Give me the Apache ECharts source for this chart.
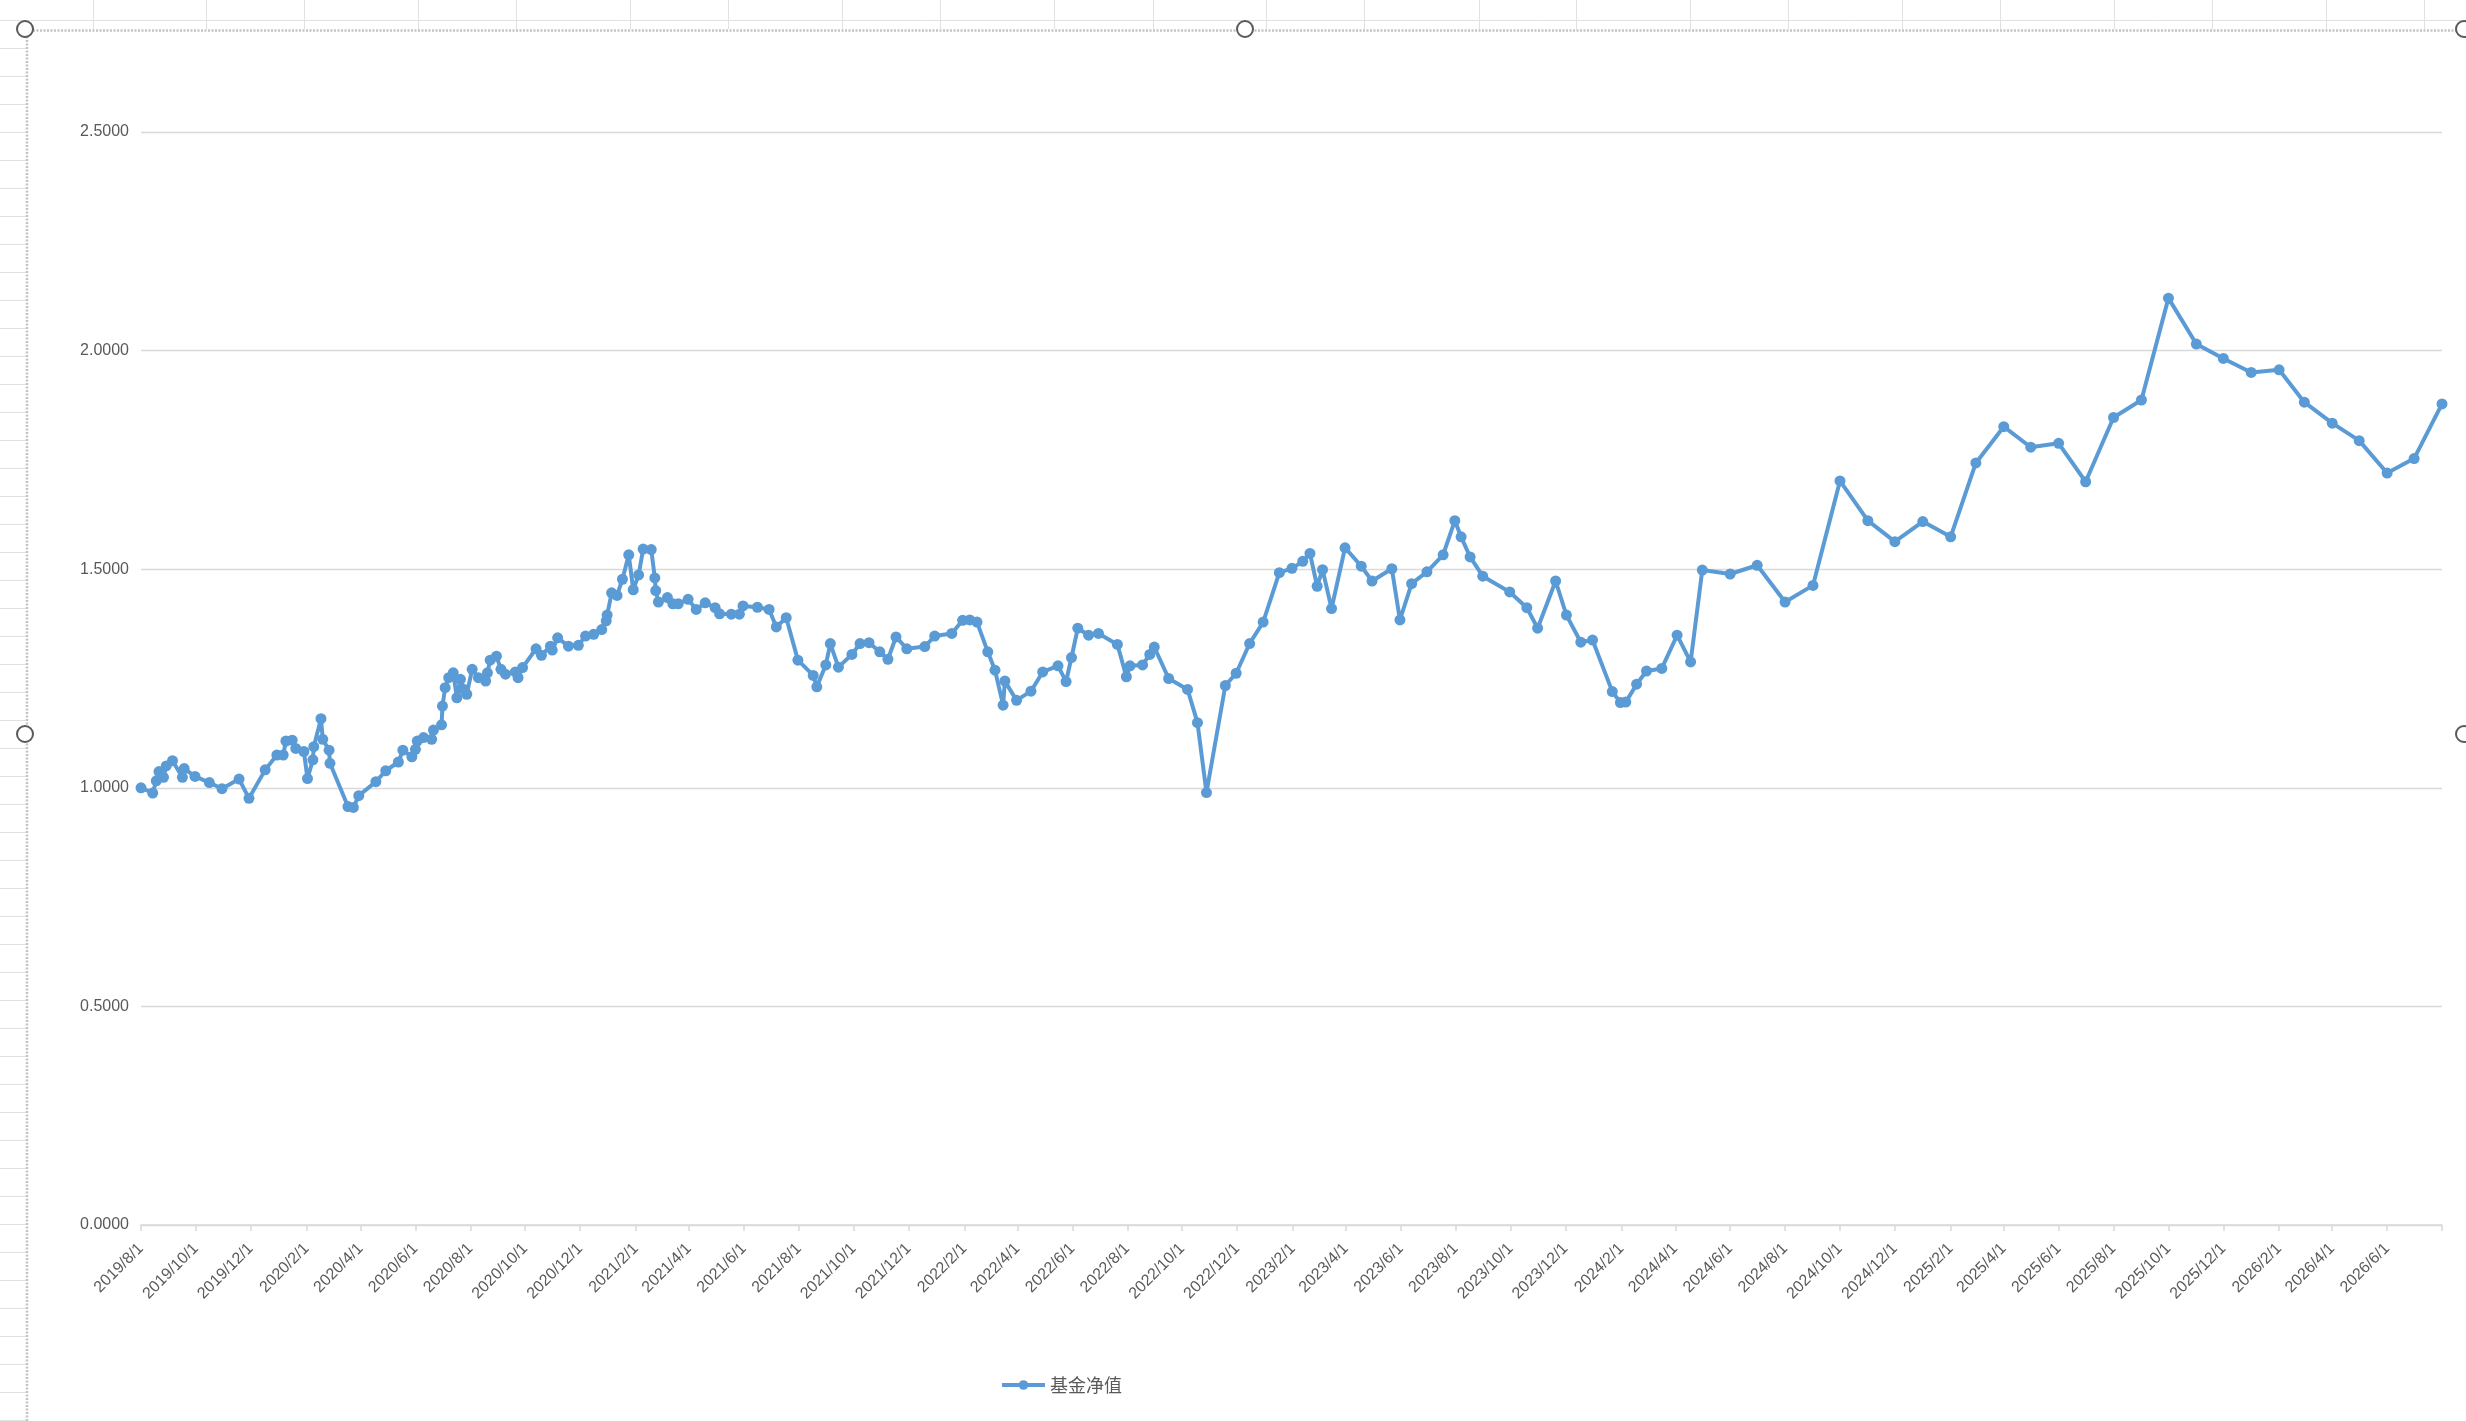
<!DOCTYPE html>
<html>
<head>
<meta charset="utf-8">
<script src="https://cdn.jsdelivr.net/npm/echarts@6/dist/echarts.min.js"></script>
<style>
html,body{margin:0;padding:0;background:#fff;}
#c{width:2466px;height:1421px;}
</style>
</head>
<body>
<div id="c"></div>
<script>
const seriesName = '基金净值';

const dates = [
'2019/8/1','2019/8/14','2019/8/18','2019/8/21','2019/8/26','2019/8/29','2019/9/5','2019/9/16','2019/9/18','2019/9/30',
'2019/10/16','2019/10/30','2019/11/18','2019/11/29','2019/12/17','2019/12/30','2020/1/6','2020/1/9','2020/1/16','2020/1/20',
'2020/1/29','2020/2/2','2020/2/8','2020/2/9','2020/2/17','2020/2/19','2020/2/26','2020/2/27','2020/3/18','2020/3/24',
'2020/3/30','2020/4/18','2020/4/29','2020/5/13','2020/5/18','2020/5/28','2020/6/1','2020/6/3','2020/6/10','2020/6/19',
'2020/6/21','2020/6/30','2020/7/1','2020/7/4','2020/7/8','2020/7/13','2020/7/17','2020/7/21','2020/7/25','2020/7/28',
'2020/8/3','2020/8/10','2020/8/18','2020/8/20','2020/8/23','2020/8/30','2020/9/4','2020/9/9','2020/9/20','2020/9/23',
'2020/9/28','2020/10/13','2020/10/19','2020/10/29','2020/10/31','2020/11/6','2020/11/18','2020/11/29','2020/12/7','2020/12/16',
'2020/12/25','2020/12/30','2020/12/31','2021/1/5','2021/1/11','2021/1/17','2021/1/24','2021/1/29','2021/2/4','2021/2/9',
'2021/2/18','2021/2/22','2021/2/23','2021/2/26','2021/3/8','2021/3/14','2021/3/20','2021/3/31','2021/4/9','2021/4/19',
'2021/4/30','2021/5/5','2021/5/18','2021/5/27','2021/5/31','2021/6/16','2021/6/29','2021/7/7','2021/7/18','2021/7/31',
'2021/8/17','2021/8/21','2021/8/31','2021/9/5','2021/9/14','2021/9/29','2021/10/8','2021/10/18','2021/10/30','2021/11/8',
'2021/11/17','2021/11/29','2021/12/19','2021/12/30','2022/1/18','2022/1/30','2022/2/7','2022/2/15','2022/2/27','2022/3/7',
'2022/3/16','2022/3/18','2022/3/31','2022/4/16','2022/4/29','2022/5/16','2022/5/25','2022/5/31','2022/6/7','2022/6/19',
'2022/6/30','2022/7/21','2022/7/31','2022/8/4','2022/8/18','2022/8/26','2022/8/31','2022/9/16','2022/10/7','2022/10/18',
'2022/10/28','2022/11/18','2022/11/30','2022/12/15','2022/12/30','2023/1/17','2023/1/31','2023/2/12','2023/2/20','2023/2/28',
'2023/3/6','2023/3/16','2023/3/31','2023/4/18','2023/4/30','2023/5/22','2023/5/31','2023/6/13','2023/6/30','2023/7/18',
'2023/7/31','2023/8/7','2023/8/17','2023/8/31','2023/9/30','2023/10/19','2023/10/31','2023/11/20','2023/12/2','2023/12/18',
'2023/12/31','2024/1/22','2024/1/31','2024/2/6','2024/2/18','2024/2/29','2024/3/17','2024/4/3','2024/4/18','2024/5/1',
'2024/6/1','2024/7/1','2024/8/1','2024/9/1','2024/10/1','2024/11/1','2024/12/1','2025/1/1','2025/2/1','2025/3/1',
'2025/4/1','2025/5/1','2025/6/1','2025/7/1','2025/8/1','2025/9/1','2025/10/1','2025/11/1','2025/12/1','2026/1/1',
'2026/2/1','2026/3/1','2026/4/1','2026/5/1','2026/6/1','2026/7/1','2026/8/1'
];

const navValues = [
1.000,0.988,1.016,1.037,1.024,1.050,1.062,1.024,1.044,1.026,
1.012,0.998,1.020,0.976,1.041,1.075,1.075,1.107,1.109,1.090,
1.083,1.021,1.064,1.094,1.158,1.111,1.086,1.056,0.957,0.955,
0.982,1.014,1.039,1.059,1.086,1.071,1.088,1.107,1.115,1.111,
1.132,1.144,1.187,1.229,1.252,1.263,1.206,1.248,1.225,1.214,
1.271,1.252,1.244,1.263,1.292,1.301,1.271,1.260,1.265,1.252,
1.275,1.318,1.303,1.324,1.315,1.343,1.324,1.326,1.347,1.351,
1.362,1.382,1.395,1.446,1.440,1.477,1.533,1.453,1.487,1.546,
1.545,1.480,1.451,1.425,1.435,1.421,1.421,1.431,1.408,1.423,
1.412,1.398,1.397,1.397,1.416,1.413,1.408,1.368,1.389,1.292,
1.257,1.231,1.281,1.330,1.276,1.305,1.330,1.332,1.311,1.294,
1.345,1.318,1.323,1.347,1.353,1.383,1.384,1.379,1.311,1.269,
1.189,1.244,1.200,1.221,1.265,1.279,1.243,1.298,1.365,1.349,
1.353,1.328,1.254,1.279,1.281,1.305,1.322,1.250,1.225,1.149,
0.989,1.234,1.262,1.330,1.379,1.492,1.502,1.518,1.536,1.461,
1.499,1.410,1.549,1.507,1.473,1.501,1.384,1.467,1.494,1.533,
1.611,1.574,1.528,1.484,1.448,1.412,1.365,1.473,1.395,1.333,
1.338,1.220,1.195,1.196,1.237,1.267,1.273,1.349,1.288,1.498,
1.489,1.509,1.425,1.463,1.702,1.611,1.563,1.609,1.574,1.743,
1.826,1.779,1.788,1.700,1.847,1.887,2.120,2.015,1.982,1.950,
1.956,1.882,1.834,1.794,1.720,1.753,1.878
];

const tickLabels = [
'2019/8/1','2019/10/1','2019/12/1','2020/2/1','2020/4/1','2020/6/1','2020/8/1','2020/10/1','2020/12/1',
'2021/2/1','2021/4/1','2021/6/1','2021/8/1','2021/10/1','2021/12/1',
'2022/2/1','2022/4/1','2022/6/1','2022/8/1','2022/10/1','2022/12/1',
'2023/2/1','2023/4/1','2023/6/1','2023/8/1','2023/10/1','2023/12/1',
'2024/2/1','2024/4/1','2024/6/1','2024/8/1','2024/10/1','2024/12/1',
'2025/2/1','2025/4/1','2025/6/1','2025/8/1','2025/10/1','2025/12/1',
'2026/2/1','2026/4/1','2026/6/1'
];
const axisStart = '2019/8/1';
const axisEnd = '2026/8/1';

const yMin = 0, yMax = 2.5, yStep = 0.5;

function parseDate(s) {
  const p = s.split('/').map(Number);
  return new Date(p[0], p[1] - 1, p[2]).getTime();
}
function fmtDate(v) {
  const d = new Date(v);
  return d.getFullYear() + '/' + (d.getMonth() + 1) + '/' + d.getDate();
}

const seriesData = dates.map((d, i) => [parseDate(d), navValues[i]]);
const labelValues = tickLabels.map(parseDate);
const tickValues = labelValues.concat([parseDate(axisEnd)]);

// Excel-sheet decoration around the chart object
const bg = [];
const cellLine = { stroke: '#e1e1e1', lineWidth: 1 };
bg.push({ type: 'line', z: -10, shape: { x1: 0, y1: 20.5, x2: 2466, y2: 20.5 }, style: cellLine });
const colXs = [93,206,304,418,516,630,728,842,940,1054,1153,1266,1364,1479,1576,1690,1788,1902,2000,2114,2212,2326,2424];
colXs.forEach(x => bg.push({ type: 'line', z: -10, shape: { x1: x + 0.5, y1: 0, x2: x + 0.5, y2: 29 }, style: cellLine }));
for (let y = 48; y < 1421; y += 28) {
  bg.push({ type: 'line', z: -10, shape: { x1: 0, y1: y + 0.5, x2: 26, y2: y + 0.5 }, style: cellLine });
}
bg.push({ type: 'rect', z: -9, shape: { x: 27, y: 30, width: 2439, height: 1391 }, style: { fill: '#ffffff' } });
bg.push({ type: 'polyline', z: -8, shape: { points: [[27, 1421], [27, 30.5], [2466, 30.5]] },
  style: { stroke: '#c3c3c3', lineWidth: 2.5, lineDash: [2, 1.5], fill: null } });
[[25, 29], [1245, 29], [2464, 29], [25, 734], [2464, 734]].forEach(([x, y]) =>
  bg.push({ type: 'circle', z: 100, shape: { cx: x, cy: y, r: 8 }, style: { fill: '#ffffff', stroke: '#5a5a5a', lineWidth: 2 } }));

const chart = echarts.init(document.getElementById('c'), null, { renderer: 'canvas' });
chart.setOption({
  animation: false,
  backgroundColor: '#ffffff',
  graphic: { elements: bg },
  grid: { left: 141, right: 24, top: 132, bottom: 196, containLabel: false, outerBoundsMode: 'none' },
  legend: {
    data: [seriesName],
    left: 995,
    top: 1371,
    itemWidth: 43,
    itemHeight: 12,
    itemGap: 5,
    lineStyle: { width: 4 },
    textStyle: { color: '#595959', fontSize: 18, fontFamily: '"Noto Sans CJK SC", sans-serif' }
  },
  xAxis: {
    type: 'value',
    min: parseDate(axisStart),
    max: parseDate(axisEnd),
    scale: true,
    axisLine: { show: true, onZero: false, lineStyle: { color: '#d9d9d9', width: 1.5 } },
    axisTick: { show: true, length: 6, customValues: tickValues, lineStyle: { color: '#d9d9d9', width: 1.5 } },
    splitLine: { show: false },
    axisLabel: {
      customValues: labelValues,
      formatter: fmtDate,
      rotate: 45,
      margin: 21,
      hideOverlap: false,
      showMinLabel: true,
      showMaxLabel: true,
      color: '#595959',
      fontSize: 16,
      fontFamily: '"Liberation Sans", Arial, sans-serif'
    }
  },
  yAxis: {
    type: 'value',
    min: yMin,
    max: yMax,
    interval: yStep,
    axisLine: { show: false },
    axisTick: { show: false },
    splitLine: { show: true, lineStyle: { color: '#d9d9d9', width: 1.4 } },
    axisLabel: {
      formatter: v => v.toFixed(4),
      margin: 12,
      color: '#595959',
      fontSize: 16,
      fontFamily: '"Liberation Sans", Arial, sans-serif'
    }
  },
  series: [{
    name: seriesName,
    type: 'line',
    data: seriesData,
    symbol: 'circle',
    symbolSize: 11,
    showAllSymbol: true,
    lineStyle: { color: '#5B9BD5', width: 4 },
    itemStyle: { color: '#5B9BD5' }
  }]
});
</script>
</body>
</html>
